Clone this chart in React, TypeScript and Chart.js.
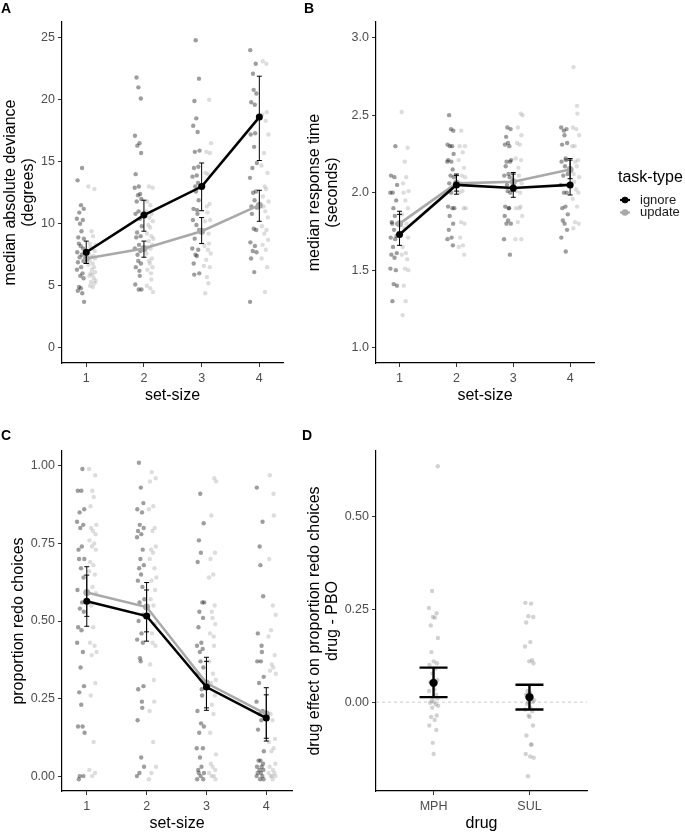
import React, { useEffect, useRef } from "react";
import { Chart, registerables } from "chart.js";
Chart.register(...registerables);

const FONT = "Arial, 'Liberation Sans', Helvetica, sans-serif";

// ---------- shared ----------
const SET_SIZES = [1, 2, 3, 4];
const SERIES = ["ignore", "update"];
const LEGEND_TITLE = "task-type";
const DRUGS = ["MPH", "SUL"];

// fixed jitter pattern (horizontal spread of the individual points)
const JITTER = [0.42, -0.77, 0.15, 0.88, -0.31, -0.96, 0.63, -0.12, 0.27, -0.58, 0.91, -0.44, 0.05, 0.71, -0.85, 0.36, -0.22, 0.79, -0.67, 0.18, -0.93, 0.54, -0.05, 0.83, -0.39, 0.11, -0.71, 0.47, 0.97, -0.28, 0.66, -0.51, 0.23, -0.89, 0.58, -0.16, 0.02, 0.74, -0.63, 0.33];

// ---------- Panel A: median absolute deviance ----------
const MAD_TICKS = [0, 5, 10, 15, 20, 25];
const MAD_IGNORE_MEAN = [7.7, 10.7, 13.0, 18.6];
const MAD_IGNORE_LO = [6.8, 9.4, 11.05, 15.1];
const MAD_IGNORE_HI = [8.6, 11.9, 14.9, 21.9];
const MAD_UPDATE_MEAN = [7.2, 8.0, 9.4, 11.5];
const MAD_UPDATE_LO = [6.8, 7.3, 8.4, 10.2];
const MAD_UPDATE_HI = [7.6, 8.6, 10.5, 12.7];
const MAD_IGNORE_PTS = [
  [14.5, 13.5, 11.5, 11.2, 10.9, 10.4, 10.3, 10.0, 9.4, 8.9, 8.8, 8.4, 8.2, 8.0, 7.7, 7.5, 7.3, 7.0, 6.9, 6.5, 6.3, 6.0, 5.8, 5.6, 4.9, 4.8, 4.6, 4.4, 3.7],
  [21.8, 21.0, 20.1, 17.1, 16.5, 16.3, 15.7, 14.0, 13.0, 12.9, 12.4, 12.3, 12.0, 11.8, 11.0, 10.8, 10.4, 9.8, 9.3, 9.0, 8.9, 8.3, 8.0, 7.8, 7.5, 7.0, 6.8, 6.5, 6.2, 5.8, 5.1, 4.7, 4.7],
  [24.8, 21.7, 19.9, 18.5, 17.9, 17.4, 15.9, 15.8, 14.6, 14.5, 13.9, 13.8, 13.3, 13.0, 12.6, 11.9, 11.2, 11.1, 10.8, 10.3, 9.9, 9.5, 8.8, 8.0, 7.9, 7.5, 7.4, 6.8, 6.0, 5.9],
  [24.0, 22.9, 22.1, 20.8, 20.5, 19.8, 19.6, 17.3, 17.2, 16.2, 14.9, 14.5, 13.7, 12.6, 12.5, 11.9, 11.4, 11.3, 10.8, 9.6, 9.5, 8.5, 8.2, 7.8, 7.7, 7.2, 6.1, 3.7],
];
const MAD_UPDATE_PTS = [
  [13.0, 12.8, 9.4, 9.0, 8.4, 8.3, 8.1, 8.0, 7.8, 7.6, 7.4, 7.3, 7.2, 7.0, 6.8, 6.7, 6.5, 6.3, 6.1, 6.0, 5.9, 5.8, 5.6, 5.4, 5.3, 5.2, 5.0, 4.9],
  [13.0, 12.9, 11.8, 11.5, 11.0, 10.8, 10.5, 10.2, 9.9, 9.7, 9.2, 9.0, 8.8, 8.6, 8.3, 8.1, 8.0, 7.6, 7.2, 7.0, 6.8, 6.5, 6.3, 6.0, 5.5, 5.0, 4.8, 4.5],
  [20.0, 16.5, 15.8, 15.7, 14.1, 14.0, 13.1, 11.6, 11.4, 10.9, 10.3, 10.2, 9.2, 8.4, 8.2, 7.9, 7.6, 7.1, 6.6, 6.5, 5.7, 5.2, 4.4],
  [23.1, 22.9, 19.0, 18.8, 18.3, 17.2, 15.7, 14.7, 14.1, 13.0, 12.8, 12.2, 11.8, 11.4, 11.0, 10.5, 9.8, 9.5, 9.2, 8.7, 8.3, 7.9, 7.2, 6.5, 4.5],
];

// ---------- Panel B: median response time ----------
const RT_TICKS = [1.0, 1.5, 2.0, 2.5, 3.0];
const RT_IGNORE_MEAN = [1.73, 2.05, 2.03, 2.05];
const RT_IGNORE_LO = [1.66, 1.99, 1.97, 1.985];
const RT_IGNORE_HI = [1.88, 2.12, 2.13, 2.22];
const RT_UPDATE_MEAN = [1.8, 2.06, 2.07, 2.15];
const RT_UPDATE_LO = [1.74, 2.01, 2.01, 2.09];
const RT_UPDATE_HI = [1.86, 2.11, 2.12, 2.21];
const RT_IGNORE_PTS = [
  [2.30, 2.11, 2.10, 2.05, 2.0, 2.0, 1.95, 1.90, 1.85, 1.81, 1.80, 1.80, 1.76, 1.72, 1.71, 1.70, 1.65, 1.61, 1.60, 1.58, 1.51, 1.50, 1.41, 1.40, 1.30],
  [2.50, 2.41, 2.40, 2.31, 2.30, 2.30, 2.25, 2.21, 2.20, 2.20, 2.15, 2.11, 2.10, 2.06, 2.0, 1.91, 1.90, 1.90, 1.85, 1.80, 1.76, 1.71, 1.70, 1.66],
  [2.42, 2.41, 2.36, 2.32, 2.31, 2.30, 2.21, 2.20, 2.20, 2.17, 2.12, 2.11, 2.10, 2.05, 2.01, 2.0, 1.91, 1.90, 1.90, 1.85, 1.82, 1.80, 1.80, 1.70, 1.60],
  [2.42, 2.41, 2.40, 2.37, 2.32, 2.31, 2.22, 2.21, 2.20, 2.17, 2.12, 2.11, 2.05, 2.0, 2.0, 1.91, 1.90, 1.86, 1.82, 1.80, 1.76, 1.71, 1.62],
];
const RT_UPDATE_PTS = [
  [2.52, 2.29, 2.20, 2.10, 2.06, 2.01, 2.0, 1.95, 1.90, 1.86, 1.80, 1.77, 1.71, 1.65, 1.61, 1.60, 1.57, 1.51, 1.50, 1.40, 1.30, 1.21],
  [2.40, 2.30, 2.30, 2.26, 2.21, 2.16, 2.11, 2.10, 2.06, 2.01, 2.0, 1.90, 1.90, 1.81, 1.80, 1.71, 1.66, 1.65, 1.60],
  [2.51, 2.50, 2.42, 2.37, 2.32, 2.31, 2.22, 2.21, 2.16, 2.11, 2.06, 2.01, 2.0, 1.91, 1.90, 1.90, 1.85, 1.81, 1.70, 1.70],
  [2.81, 2.56, 2.51, 2.42, 2.41, 2.37, 2.30, 2.30, 2.21, 2.20, 2.17, 2.12, 2.10, 2.07, 2.02, 2.0, 1.96, 1.91, 1.81, 1.80, 1.77],
];

// ---------- Panel C: proportion redo choices ----------
const REDO_TICKS = [0, 0.25, 0.5, 0.75, 1.0];
const REDO_IGNORE_MEAN = [0.564, 0.516, 0.287, 0.187];
const REDO_IGNORE_LO = [0.483, 0.435, 0.212, 0.113];
const REDO_IGNORE_HI = [0.648, 0.6, 0.37, 0.262];
const REDO_UPDATE_MEAN = [0.592, 0.545, 0.3, 0.2];
const REDO_UPDATE_LO = [0.515, 0.465, 0.22, 0.122];
const REDO_UPDATE_HI = [0.675, 0.624, 0.383, 0.285];
const REDO_IGNORE_PTS = [
  [0.99, 0.92, 0.92, 0.86, 0.85, 0.82, 0.81, 0.80, 0.74, 0.73, 0.70, 0.70, 0.67, 0.64, 0.60, 0.56, 0.54, 0.53, 0.48, 0.47, 0.43, 0.40, 0.35, 0.29, 0.27, 0.23, 0.16, 0.16, 0.14, 0.0, 0.0, -0.01],
  [1.01, 0.93, 0.88, 0.86, 0.85, 0.81, 0.80, 0.79, 0.78, 0.77, 0.73, 0.70, 0.68, 0.67, 0.65, 0.63, 0.61, 0.57, 0.56, 0.52, 0.50, 0.46, 0.44, 0.43, 0.38, 0.37, 0.29, 0.28, 0.24, 0.22, 0.18, 0.06, 0.03, 0.01, 0.0],
  [0.91, 0.815, 0.76, 0.72, 0.69, 0.56, 0.56, 0.53, 0.51, 0.48, 0.43, 0.42, 0.41, 0.40, 0.37, 0.35, 0.33, 0.28, 0.26, 0.21, 0.17, 0.16, 0.14, 0.09, 0.09, 0.06, 0.03, 0.02, 0.01, 0.01, 0.0, -0.01, -0.01],
  [0.93, 0.82, 0.74, 0.68, 0.58, 0.46, 0.42, 0.40, 0.37, 0.37, 0.32, 0.30, 0.24, 0.21, 0.20, 0.18, 0.15, 0.08, 0.05, 0.05, 0.04, 0.03, 0.03, 0.02, 0.02, 0.01, 0.01, 0.0, 0.0, -0.01, -0.01],
];
const REDO_UPDATE_PTS = [
  [0.99, 0.97, 0.92, 0.90, 0.87, 0.81, 0.80, 0.79, 0.78, 0.76, 0.75, 0.74, 0.73, 0.69, 0.68, 0.66, 0.65, 0.61, 0.59, 0.55, 0.48, 0.43, 0.42, 0.40, 0.39, 0.30, 0.26, 0.11, 0.02, 0.01, 0.0],
  [0.98, 0.96, 0.95, 0.87, 0.86, 0.80, 0.79, 0.74, 0.73, 0.72, 0.70, 0.67, 0.64, 0.63, 0.60, 0.57, 0.55, 0.52, 0.49, 0.46, 0.43, 0.42, 0.36, 0.31, 0.24, 0.21, 0.11, 0.03, 0.01, -0.01],
  [0.96, 0.95, 0.84, 0.72, 0.70, 0.65, 0.64, 0.55, 0.53, 0.51, 0.49, 0.46, 0.45, 0.42, 0.37, 0.33, 0.31, 0.30, 0.29, 0.26, 0.23, 0.20, 0.14, 0.07, 0.04, 0.03, 0.02, 0.01, 0.0, 0.0, -0.01],
  [0.97, 0.91, 0.84, 0.70, 0.55, 0.52, 0.47, 0.45, 0.39, 0.36, 0.35, 0.34, 0.33, 0.20, 0.18, 0.12, 0.11, 0.09, 0.08, 0.04, 0.03, 0.02, 0.01, 0.01, 0.0, 0.0, 0.0, -0.01],
];

// ---------- Panel D: drug effect ----------
const DRUG_TICKS = [0, 0.25, 0.5];
const DRUG_MEAN = [0.052, 0.0135];
const DRUG_LO = [0.0135, -0.02];
const DRUG_HI = [0.093, 0.047];
const DRUG_PTS = [
  [0.637, 0.30, 0.254, 0.24, 0.23, 0.228, 0.207, 0.173, 0.135, 0.11, 0.105, 0.10, 0.09, 0.077, 0.06, 0.054, 0.034, 0.03, 0.02, 0.013, 0.01, 0.004, 0.0, -0.002, -0.006, -0.01, -0.015, -0.036, -0.04, -0.048, -0.063, -0.075, -0.11, -0.14],
  [0.268, 0.266, 0.232, 0.23, 0.215, 0.162, 0.15, 0.113, 0.11, 0.105, 0.03, 0.025, 0.02, 0.01, 0.005, 0.0, 0.0, -0.005, -0.015, -0.02, -0.025, -0.036, -0.04, -0.063, -0.09, -0.114, -0.115, -0.14, -0.147, -0.15, -0.2],
];

// ---------- helpers ----------
const IGNORE_COLOR = "#000000";
const UPDATE_COLOR = "#a9a9a9";
const IGNORE_PT = "rgba(0,0,0,0.38)";
const UPDATE_PT = "rgba(165,165,165,0.38)";

function jittered(pts: number[][], side: number, spread: number, seed: number) {
  const out: { x: number; y: number }[] = [];
  pts.forEach((arr, k) =>
    arr.forEach((v, i) => {
      const j = JITTER[(i + seed + k * 11) % JITTER.length];
      out.push({ x: k + 1 + side + j * spread, y: v });
    })
  );
  return out;
}

function meanPts(xs: number[], ys: number[]) {
  return ys.map((v, i) => ({ x: xs[i], y: v }));
}

type Bar = { xs: number[]; lo: number[]; hi: number[]; color: string; width: number; cap: number };

function errorBarPlugin(bars: Bar[]) {
  return {
    id: "errorBars",
    afterDatasetsDraw(chart: any) {
      const { ctx } = chart;
      const x = chart.scales.x;
      const y = chart.scales.y;
      ctx.save();
      bars.forEach((b) => {
        ctx.strokeStyle = b.color;
        ctx.lineWidth = b.width;
        b.lo.forEach((lo, i) => {
          const px = x.getPixelForValue(b.xs[i]);
          const p1 = y.getPixelForValue(lo);
          const p2 = y.getPixelForValue(b.hi[i]);
          ctx.beginPath();
          ctx.moveTo(px, p1);
          ctx.lineTo(px, p2);
          ctx.moveTo(px - b.cap, p1);
          ctx.lineTo(px + b.cap, p1);
          ctx.moveTo(px - b.cap, p2);
          ctx.lineTo(px + b.cap, p2);
          ctx.stroke();
        });
      });
      ctx.restore();
    },
  };
}

function legendPlugin() {
  return {
    id: "taskLegend",
    afterDraw(chart: any) {
      const { ctx, chartArea } = chart;
      const x0 = chartArea.right + 24;
      ctx.save();
      ctx.textBaseline = "middle";
      ctx.textAlign = "left";
      ctx.fillStyle = "#000";
      ctx.font = `16px ${FONT}`;
      ctx.fillText(LEGEND_TITLE, x0, 178);
      const colors = [IGNORE_COLOR, UPDATE_COLOR];
      SERIES.forEach((name, i) => {
        const cy = 200 + i * 12.5;
        const cx = x0 + 7;
        ctx.strokeStyle = colors[i];
        ctx.lineWidth = 2.2;
        ctx.beginPath();
        ctx.moveTo(cx - 5, cy);
        ctx.lineTo(cx + 5, cy);
        ctx.stroke();
        ctx.fillStyle = colors[i];
        ctx.beginPath();
        ctx.arc(cx, cy, 3.3, 0, Math.PI * 2);
        ctx.fill();
        ctx.fillStyle = "#1a1a1a";
        ctx.font = `13px ${FONT}`;
        ctx.fillText(name, x0 + 22, cy);
      });
      ctx.restore();
    },
  };
}

type AxisOpts = {
  min: number;
  max: number;
  ticks: number[];
  fmt: (v: number) => string;
  title: string | string[];
  size: number;
  titlePad: number;
};

function xAxis(a: AxisOpts) {
  return {
    type: "linear",
    min: a.min,
    max: a.max,
    afterBuildTicks: (s: any) => {
      s.ticks = a.ticks.map((v) => ({ value: v }));
    },
    afterFit: (s: any) => {
      s.height = a.size;
    },
    ticks: {
      callback: (v: any) => a.fmt(Number(v)),
      font: { size: 12.5, family: FONT },
      color: "#4d4d4d",
      padding: 4,
      maxRotation: 0,
      autoSkip: false,
    },
    grid: { drawOnChartArea: false, drawTicks: true, tickLength: 4, color: "#333", lineWidth: 1 },
    border: { display: true, color: "#000", width: 1.2 },
    title: {
      display: true,
      text: a.title,
      font: { size: 16, family: FONT, lineHeight: 1.1 },
      color: "#000",
      padding: { top: 0, bottom: a.titlePad },
    },
  };
}

function yAxis(a: AxisOpts) {
  return {
    type: "linear",
    min: a.min,
    max: a.max,
    afterBuildTicks: (s: any) => {
      s.ticks = a.ticks.map((v) => ({ value: v }));
    },
    afterFit: (s: any) => {
      s.width = a.size;
    },
    ticks: {
      callback: (v: any) => a.fmt(Number(v)),
      font: { size: 12.5, family: FONT },
      color: "#4d4d4d",
      padding: 3,
      autoSkip: false,
    },
    grid: { drawOnChartArea: false, drawTicks: true, tickLength: 4, color: "#333", lineWidth: 1 },
    border: { display: true, color: "#000", width: 1.2 },
    title: {
      display: true,
      text: a.title,
      font: { size: 16, family: FONT, lineHeight: 1.1 },
      color: "#000",
      padding: { top: a.titlePad, bottom: 0 },
    },
  };
}

type TaskPanel = {
  ignorePts: number[][];
  updatePts: number[][];
  ignoreMean: number[];
  updateMean: number[];
  ignoreLo: number[];
  ignoreHi: number[];
  updateLo: number[];
  updateHi: number[];
  x: AxisOpts;
  y: AxisOpts;
  padding: any;
  legend?: boolean;
};

function taskConfig(p: TaskPanel) {
  const plugins: any[] = [
    errorBarPlugin([
      { xs: SET_SIZES, lo: p.updateLo, hi: p.updateHi, color: "#000", width: 1, cap: 2.5 },
      { xs: SET_SIZES, lo: p.ignoreLo, hi: p.ignoreHi, color: "#000", width: 1, cap: 2.5 },
    ]),
  ];
  if (p.legend) plugins.push(legendPlugin());
  return {
    type: "scatter",
    data: {
      datasets: [
        {
          type: "line",
          label: SERIES[0],
          data: meanPts(SET_SIZES, p.ignoreMean),
          borderColor: IGNORE_COLOR,
          backgroundColor: IGNORE_COLOR,
          borderWidth: 2.6,
          pointRadius: 3.5,
          pointBorderWidth: 0,
          order: 0,
        },
        {
          type: "line",
          label: SERIES[1],
          data: meanPts(SET_SIZES, p.updateMean),
          borderColor: UPDATE_COLOR,
          backgroundColor: UPDATE_COLOR,
          borderWidth: 2.6,
          pointRadius: 3.5,
          pointBorderWidth: 0,
          order: 0,
        },
        {
          label: SERIES[0] + " points",
          data: jittered(p.ignorePts, -0.1, 0.065, 0),
          backgroundColor: IGNORE_PT,
          borderWidth: 0,
          pointRadius: 2.2,
          order: 2,
        },
        {
          label: SERIES[1] + " points",
          data: jittered(p.updatePts, 0.1, 0.065, 5),
          backgroundColor: UPDATE_PT,
          borderWidth: 0,
          pointRadius: 2.2,
          order: 2,
        },
      ],
    },
    options: {
      animation: false,
      responsive: false,
      devicePixelRatio: 1,
      layout: { padding: p.padding },
      plugins: { legend: { display: false }, tooltip: { enabled: false } },
      scales: { x: xAxis(p.x), y: yAxis(p.y) },
    },
    plugins,
  };
}

const setSizeFmt = (v: number) => String(v);

function configA() {
  return taskConfig({
    ignorePts: MAD_IGNORE_PTS,
    updatePts: MAD_UPDATE_PTS,
    ignoreMean: MAD_IGNORE_MEAN,
    updateMean: MAD_UPDATE_MEAN,
    ignoreLo: MAD_IGNORE_LO,
    ignoreHi: MAD_IGNORE_HI,
    updateLo: MAD_UPDATE_LO,
    updateHi: MAD_UPDATE_HI,
    x: { min: 0.58, max: 4.41, ticks: SET_SIZES, fmt: setSizeFmt, title: "set-size", size: 47, titlePad: 6 },
    y: { min: -1.23, max: 26.27, ticks: MAD_TICKS, fmt: (v) => String(v), title: ["median absolute deviance", "(degrees)"], size: 62, titlePad: 2 },
    padding: { left: 0, top: 22, right: 17, bottom: 0 },
  });
}

function configB() {
  return taskConfig({
    ignorePts: RT_IGNORE_PTS,
    updatePts: RT_UPDATE_PTS,
    ignoreMean: RT_IGNORE_MEAN,
    updateMean: RT_UPDATE_MEAN,
    ignoreLo: RT_IGNORE_LO,
    ignoreHi: RT_IGNORE_HI,
    updateLo: RT_UPDATE_LO,
    updateHi: RT_UPDATE_HI,
    x: { min: 0.586, max: 4.42, ticks: SET_SIZES, fmt: setSizeFmt, title: "set-size", size: 47, titlePad: 6 },
    y: { min: 0.901, max: 3.101, ticks: RT_TICKS, fmt: (v) => v.toFixed(1), title: ["median response time", "(seconds)"], size: 76, titlePad: 6 },
    padding: { left: 0, top: 22, right: 91, bottom: 0 },
    legend: true,
  });
}

function configC() {
  return taskConfig({
    ignorePts: REDO_IGNORE_PTS,
    updatePts: REDO_UPDATE_PTS,
    ignoreMean: REDO_IGNORE_MEAN,
    updateMean: REDO_UPDATE_MEAN,
    ignoreLo: REDO_IGNORE_LO,
    ignoreHi: REDO_IGNORE_HI,
    updateLo: REDO_UPDATE_LO,
    updateHi: REDO_UPDATE_HI,
    x: { min: 0.586, max: 4.43, ticks: SET_SIZES, fmt: setSizeFmt, title: "set-size", size: 41, titlePad: 0 },
    y: { min: -0.048, max: 1.048, ticks: REDO_TICKS, fmt: (v) => v.toFixed(2), title: "proportion redo choices", size: 62, titlePad: 10 },
    padding: { left: 0, top: 36, right: 8, bottom: 0 },
  });
}

function configD() {
  const xs = DRUGS.map((_, i) => i + 1);
  return {
    type: "scatter",
    data: {
      datasets: [
        {
          type: "line",
          label: "mean",
          data: meanPts(xs, DRUG_MEAN),
          showLine: false,
          backgroundColor: "#000",
          borderColor: "#000",
          pointRadius: 4.2,
          pointBorderWidth: 0,
          order: 0,
        },
        {
          label: "participants",
          data: jittered(DRUG_PTS, 0, 0.05, 3),
          backgroundColor: "rgba(125,125,125,0.35)",
          borderWidth: 0,
          pointRadius: 2.2,
          order: 2,
        },
        {
          type: "line",
          label: "zero",
          data: [
            { x: 0.4, y: 0 },
            { x: 2.6, y: 0 },
          ],
          borderColor: "#bdbdbd",
          borderWidth: 0.8,
          borderDash: [3, 3],
          pointRadius: 0,
          order: 3,
        },
      ],
    },
    options: {
      animation: false,
      responsive: false,
      devicePixelRatio: 1,
      layout: { padding: { left: 0, top: 36, right: 98, bottom: 0 } },
      plugins: { legend: { display: false }, tooltip: { enabled: false } },
      scales: {
        x: xAxis({ min: 0.4, max: 2.6, ticks: xs, fmt: (v) => DRUGS[v - 1] ?? "", title: "drug", size: 41, titlePad: 0 }),
        y: yAxis({ min: -0.24, max: 0.678, ticks: DRUG_TICKS, fmt: (v) => v.toFixed(2), title: ["drug effect on proportion redo choices", "drug - PBO"], size: 76, titlePad: 6 }),
      },
    },
    plugins: [errorBarPlugin([{ xs, lo: DRUG_LO, hi: DRUG_HI, color: "#000", width: 2.4, cap: 14 }])],
  };
}

function Panel({ left, top, width, height, build }: { left: number; top: number; width: number; height: number; build: () => any }) {
  const ref = useRef<HTMLCanvasElement | null>(null);
  useEffect(() => {
    const c = new Chart(ref.current as HTMLCanvasElement, build());
    return () => c.destroy();
  }, []);
  return <canvas ref={ref} width={width} height={height} style={{ position: "absolute", left, top, width, height }} />;
}

const labelStyle = (left: number, top: number): React.CSSProperties => ({
  position: "absolute",
  left,
  top,
  font: `bold 14px ${FONT}`,
  color: "#000",
  lineHeight: "14px",
});

export default function App() {
  return (
    <div style={{ position: "absolute", left: 0, top: 0, width: 685, height: 832, background: "#fff", overflow: "hidden" }}>
      <Panel left={0} top={0} width={300} height={410} build={configA} />
      <Panel left={300} top={0} width={385} height={410} build={configB} />
      <Panel left={0} top={415} width={300} height={417} build={configC} />
      <Panel left={300} top={415} width={385} height={417} build={configD} />
      <div style={labelStyle(1, 1)}>A</div>
      <div style={labelStyle(304, 1)}>B</div>
      <div style={labelStyle(1, 428)}>C</div>
      <div style={labelStyle(302, 428)}>D</div>
    </div>
  );
}
